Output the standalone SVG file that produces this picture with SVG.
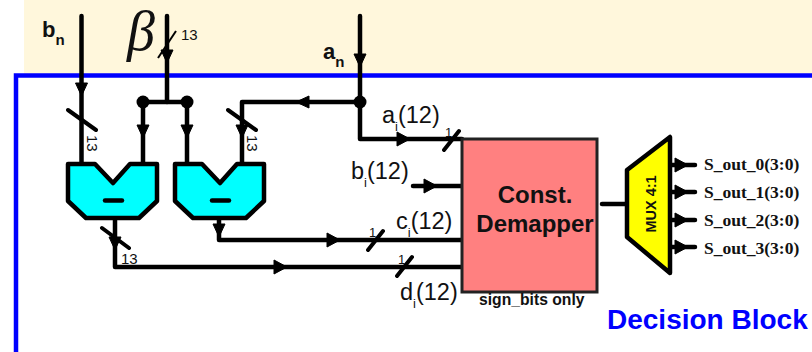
<svg xmlns="http://www.w3.org/2000/svg" width="812" height="352" viewBox="0 0 812 352">
<style>
.w{fill:none;stroke:#000;stroke-width:4.500;stroke-linecap:round;stroke-linejoin:round}
.s{fill:none;stroke:#000;stroke-width:4;stroke-linecap:round}
.a{fill:#000;stroke:#000;stroke-width:1;stroke-linejoin:round}
.t{font-family:"Liberation Sans",Arial,sans-serif;fill:#111}
.n{font-size:15px}
.l{font-size:23.500px}
.b{font-weight:bold}
.o{font-family:"Liberation Serif","Times New Roman",serif;font-weight:bold;font-size:17.500px;fill:#111}
.sub{fill:#00ffff;stroke:#000;stroke-width:4.500;stroke-linejoin:round}
</style>
<defs>
<polygon id="ad" class="a" points="-6,-6 6,-6 0,7"/>
<polygon id="ar" class="a" points="-6,-7 7,0 -6,7"/>
<polygon id="al" class="a" points="6,-6 -7,0 6,6"/>
<path id="subshape" class="sub" d="M68,164H95L113,183L130,164H157V201L139,218H86L68,201Z"/>
</defs>
<rect x="24" y="0" width="788" height="74" fill="#fff7dc"/>
<rect x="16" y="75.500" width="830" height="300" fill="#fff" stroke="#0000ff" stroke-width="4.500"/>
<g id="connectors">
<path class="w" d="M81.500,16V165"/>
<path class="w" d="M167,16V102"/>
<path class="w" d="M143,102H187M143,102V165M187,102V165"/>
<path class="w" d="M360,16V139H462"/>
<path class="w" d="M360,102H242V165"/>
<path class="w" d="M115,218V267H462"/>
<path class="w" d="M219,218V240H462"/>
<path class="w" d="M413,186H462"/>
<path class="w" d="M602,204H627"/>
<path class="w" d="M670,165H695M670,192H695M670,220H695M670,247H695"/>
<use href="#ad" x="81.500" y="89"/>
<use href="#ad" x="167" y="56"/>
<use href="#ad" x="143" y="131"/>
<use href="#ad" x="187" y="131"/>
<use href="#ad" x="242" y="131"/>
<use href="#ad" x="360" y="60"/>
<use href="#ad" x="115" y="243"/>
<use href="#ad" x="219" y="230"/>
<use href="#al" x="303" y="102"/>
<use href="#ar" x="403" y="139"/>
<use href="#ar" x="430" y="186"/>
<use href="#ar" x="333" y="240"/>
<use href="#ar" x="280" y="267"/>
<use href="#ar" x="681" y="165"/>
<use href="#ar" x="681" y="192"/>
<use href="#ar" x="681" y="220"/>
<use href="#ar" x="681" y="247"/>
<circle cx="143" cy="102" r="6.500"/>
<circle cx="187" cy="102" r="6.500"/>
<circle cx="360" cy="102" r="6.500"/>
<path class="s" d="M68,110L96,130M228,110L256,130M102,228L129,248"/>
<path class="s" d="M444,150L459,131M368,250L383,231M397,276L412,257"/>
<path fill="none" stroke="#000" stroke-width="2" d="M176,31L158,58"/>
</g>
<g id="sub1"><use href="#subshape"/><path d="M105,200.500H122" stroke="#000" stroke-width="4.500" stroke-linecap="round"/></g>
<g id="sub2"><use href="#subshape" x="107"/><path d="M212,200.500H229" stroke="#000" stroke-width="4.500" stroke-linecap="round"/></g>
<g id="demapper">
<rect x="462" y="139" width="135" height="153" fill="#ff8080" stroke="#222" stroke-width="3"/>
<text class="t b" x="535" y="203" font-size="24" text-anchor="middle">Const.</text>
<text class="t b" x="535" y="232" font-size="24" text-anchor="middle">Demapper</text>
</g>
<g id="mux">
<path d="M627,170L670,137V273L627,237Z" fill="#ffff00" stroke="#000" stroke-width="4.500" stroke-linejoin="round"/>
<text class="t b" transform="translate(656,204) rotate(-90)" font-size="14.500" text-anchor="middle" fill="#000">MUX 4:1</text>
</g>
<g id="labels">
<text class="t b" x="42" y="37" font-size="22">b<tspan font-size="15" dy="8">n</tspan></text>
<text class="t b" x="323" y="59" font-size="22">a<tspan font-size="15" dy="8">n</tspan></text>
<text x="127" y="50" font-family="Liberation Serif,serif" font-style="italic" font-size="56" fill="#111">β</text>
<text class="t n" x="181" y="40">13</text>
<text class="t n" transform="translate(87,135) rotate(90)">13</text>
<text class="t n" transform="translate(247,135) rotate(90)">13</text>
<text class="t n" x="121" y="264">13</text>
<text class="t" x="445" y="137" font-size="13">1</text>
<text class="t" x="369" y="237" font-size="13">1</text>
<text class="t" x="398" y="264" font-size="13">1</text>
<text class="t l" x="382" y="123">a<tspan font-size="13" dy="8">i</tspan><tspan dy="-8">(12)</tspan></text>
<text class="t l" x="351" y="179">b<tspan font-size="13" dy="8">i</tspan><tspan dy="-8">(12)</tspan></text>
<text class="t l" x="396" y="229">c<tspan font-size="13" dy="8">i</tspan><tspan dy="-8">(12)</tspan></text>
<text class="t l" x="400" y="300">d<tspan font-size="13" dy="8">i</tspan><tspan dy="-8">(12)</tspan></text>
<text class="t b" x="479" y="305" font-size="15.700">sign_bits only</text>
<text class="o" x="704" y="170">S_out_0(3:0)</text>
<text class="o" x="704" y="198">S_out_1(3:0)</text>
<text class="o" x="704" y="226">S_out_2(3:0)</text>
<text class="o" x="704" y="254">S_out_3(3:0)</text>
<text class="t b" x="607" y="329" font-size="28" style="fill:#0000ff">Decision Block</text>
</g>
</svg>
